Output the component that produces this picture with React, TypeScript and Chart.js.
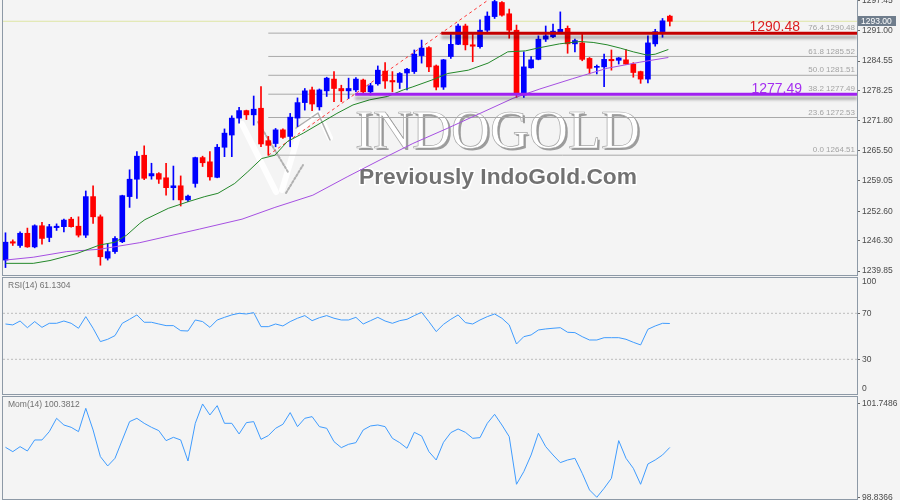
import React, { useEffect, useRef } from "react";
import { Chart, registerables } from "chart.js";

Chart.register(...registerables);

// ---------------- data ----------------
const opens = [1242.2,1246.1,1245.3,1247.9,1245.0,1249.5,1247.0,1249.1,1249.3,1250.9,
1249.4,1247.5,1255.7,1251.4,1242.6,1244.0,1246.1,1255.7,1259.4,1264.5,
1260.1,1260.6,1259.7,1257.6,1258.0,1255.0,1258.5,1264.0,1263.1,1259.8,
1266.2,1268.8,1272.4,1274.0,1273.1,1274.5,1267.6,1267.0,1269.9,1268.5,
1272.4,1275.7,1278.4,1274.8,1278.2,1280.7,1278.7,1278.2,1278.4,1280.5,
1278.0,1279.7,1282.4,1280.4,1280.0,1282.0,1282.3,1285.7,1287.4,1283.5,
1279.0,1285.5,1288.1,1292.0,1288.0,1287.6,1291.1,1294.0,1297.0,1294.6,
1291.1,1277.3,1283.1,1284.9,1289.2,1289.7,1290.6,1291.5,1288.2,1288.4,
1285.1,1283.2,1283.3,1284.9,1284.7,1284.8,1283.9,1282.3,1280.7,1288.2,
1290.8,1294.1];
const highs = [1248.0,1246.5,1248.2,1249.0,1249.7,1250.2,1249.8,1249.9,1250.9,1251.3,
1251.4,1256.9,1258.0,1251.8,1245.6,1247.2,1256.0,1261.4,1265.3,1266.5,
1262.8,1260.8,1262.8,1262.2,1260.1,1256.0,1264.1,1264.3,1265.3,1266.8,
1270.1,1272.9,1274.7,1274.1,1277.1,1279.1,1268.5,1270.2,1270.1,1273.4,
1276.7,1278.7,1279.0,1278.6,1281.1,1282.3,1279.4,1280.9,1281.0,1280.7,
1279.8,1283.5,1284.2,1282.3,1282.1,1283.0,1286.9,1289.0,1287.6,1283.7,
1284.9,1290.4,1292.4,1292.4,1290.4,1293.3,1295.0,1298.5,1297.2,1295.6,
1292.2,1286.5,1285.5,1289.9,1292.0,1292.4,1295.0,1292.0,1289.2,1290.4,
1285.3,1283.7,1286.0,1286.9,1285.3,1287.0,1284.2,1282.4,1289.9,1291.3,
1293.6,1294.3];
const lows = [1240.6,1245.3,1244.9,1244.9,1244.8,1245.6,1246.1,1248.5,1248.2,1249.2,
1247.1,1247.0,1250.0,1241.1,1242.2,1243.6,1245.9,1253.4,1255.3,1259.3,
1259.4,1258.5,1256.0,1255.0,1253.7,1254.6,1257.7,1262.1,1259.2,1259.7,
1264.2,1264.2,1271.3,1272.1,1270.9,1266.3,1264.5,1266.3,1268.1,1266.3,
1270.6,1274.1,1274.0,1274.1,1277.0,1275.9,1275.9,1276.6,1278.0,1277.7,
1277.3,1279.4,1278.7,1278.0,1278.7,1278.4,1281.9,1284.1,1282.3,1278.4,
1278.5,1285.1,1288.0,1286.9,1284.4,1287.3,1290.8,1293.6,1294.1,1289.4,
1276.8,1276.8,1283.0,1284.8,1288.7,1289.5,1290.4,1286.2,1286.5,1284.6,
1281.8,1281.8,1279.1,1282.6,1283.9,1283.8,1281.1,1279.8,1279.9,1287.7,
1289.6,1292.0];
const closes = [1246.0,1245.8,1247.9,1245.0,1249.5,1246.8,1249.3,1249.4,1250.7,1249.3,
1247.5,1255.7,1251.4,1242.9,1244.0,1246.8,1255.9,1259.4,1264.3,1259.6,
1260.6,1259.4,1257.6,1258.0,1255.0,1255.8,1264.0,1262.9,1259.9,1266.2,
1269.2,1272.4,1274.0,1273.1,1274.3,1266.9,1266.6,1269.9,1268.3,1272.6,
1275.7,1278.2,1275.4,1278.4,1280.9,1278.7,1278.2,1278.7,1280.7,1278.0,
1279.3,1282.6,1280.3,1280.1,1281.9,1282.8,1286.0,1287.3,1283.3,1279.0,
1284.8,1288.1,1292.0,1288.0,1287.7,1291.1,1294.1,1297.2,1294.3,1291.1,
1277.4,1283.3,1284.8,1289.2,1289.9,1290.9,1291.3,1288.2,1288.9,1284.9,
1283.0,1283.4,1284.9,1284.6,1285.2,1283.9,1282.1,1280.7,1288.4,1290.8,
1293.1,1293.0];

// moving averages, sampled where read (bar index -> price)
const maFastIdx = [0,3.8,6.1,9.8,12.9,15,16.6,18.4,19.1,22.3,25,27.3,29.1,31.4,33.2,35.1,36.9,38.6,40.8,43.1,45.4,47.6,49.9,52.3,54.5,55.7,58.4,60.6,63.4,66.1,68.8,71.2,72.9,75.9,78.7,80.5,82.4,84.2,86,87.9,89,90.8];
const maFastVal = [1241.5,1241.5,1242.1,1243.6,1245.4,1246.0,1247.5,1250.0,1250.8,1253.2,1254.6,1255.7,1256.4,1258.5,1261.0,1263.8,1264.5,1267.4,1269.2,1271.3,1273.4,1275.2,1276.3,1277.0,1278.4,1279.0,1280.5,1281.9,1282.6,1284.1,1286.5,1286.7,1287.3,1288.2,1288.7,1288.5,1288.0,1287.3,1286.5,1285.8,1286.0,1287.0];
const maSlowIdx = [0,3.8,8.4,12.9,18.4,26.6,32.4,36.9,42.1,46.8,51.3,55.8,60.5,65,69.5,73.2,77.7,82.4,86.9,90.8];
const maSlowVal = [1242.2,1242.8,1244.0,1244.5,1245.9,1248.8,1250.9,1253.4,1256.0,1259.9,1263.5,1267.0,1270.2,1273.4,1276.6,1278.6,1280.8,1283.0,1284.3,1285.3];

const rsiValues = [60.7,59.9,63.3,57.5,62.8,57.8,61.3,61.3,63.3,61.3,
57.0,67.1,57.0,45.4,47.4,50.6,61.3,64.8,68.6,62.2,
62.2,60.7,59.3,59.3,54.9,54.6,64.2,62.8,57.8,64.2,
66.5,68.6,70.0,69.4,70.6,58.4,58.4,60.7,59.0,62.8,
65.7,68.0,63.6,66.2,68.0,65.7,64.2,64.2,66.5,60.7,
63.6,66.5,63.3,61.3,63.6,64.8,68.0,70.9,62.8,54.1,
60.4,64.8,68.6,61.9,60.7,64.2,67.1,69.4,65.7,59.9,
43.3,49.7,51.2,55.5,56.4,57.0,57.5,53.5,53.2,49.7,
46.8,46.8,48.8,48.8,48.8,47.4,44.8,42.5,56.1,59.0,
61.3,61.13];
const momValues = [100.386,100.251,100.406,100.272,100.613,100.613,100.871,101.284,101.077,101.005,
100.871,101.594,100.923,100.097,99.808,100.045,100.613,101.181,101.284,101.129,
101.005,100.902,100.592,100.695,100.613,99.962,101.129,101.728,101.387,101.676,
101.129,101.129,100.799,101.150,101.181,100.633,100.747,100.974,101.098,101.460,
101.026,101.284,101.336,101.026,100.974,100.561,100.375,100.479,100.530,100.923,
101.047,101.077,101.026,100.664,100.530,100.355,100.850,100.737,100.251,99.993,
100.541,100.840,100.953,100.850,100.664,100.685,101.129,101.408,101.077,100.716,
99.240,99.632,100.148,100.820,100.406,100.148,99.911,99.993,100.045,99.580,
99.064,98.837,99.116,99.425,100.592,100.045,99.735,99.240,99.869,99.993,
100.148,100.381];

const priceTicks = [1297.45,1291.00,1284.55,1278.25,1271.80,1265.50,1259.05,1252.60,1246.30,1239.85];
const fibRatios = ["0.0","23.6","38.2","50.0","61.8","76.4"];
const fibValues = [1264.51,1272.53,1277.49,1281.51,1285.52,1290.48];
const fibHigh = 1298.49;
const fibStartIdx = 36;
const fibEndIdx = 67;
const resistance = 1290.48;
const resistanceStart = 59.7;
const support = 1277.49;
const supportStart = 47.9;
const bidPrice = 1293.0;
const rsiLevels = [70, 30];
const rsiTicks = [100, 70, 30, 0];
const momTicks = [101.7486, 98.8366];
const rsiTitle = "RSI(14) 61.1304";
const momTitle = "Mom(14) 100.3812";

// ---------------- style / layout ----------------
const FONT = '"Liberation Sans", Arial, sans-serif';
const BG = "#f4f4f4";
const FRAME = "#8d99a6";
const BULL = "#0000ff";
const BEAR = "#ff0000";
const X_MIN = -0.34;
const X_MAX = 116.64;
const AXIS_W = 43;

const xScale: any = {
  type: "linear", min: X_MIN, max: X_MAX, display: false, offset: false,
  grid: { offset: false },
};

function yAxis(min: number, max: number, ticks: number[], digits: number): any {
  return {
    position: "right", min, max, beginAtZero: false,
    afterBuildTicks: (s: any) => { s.ticks = ticks.map((v) => ({ value: v })); },
    afterFit: (s: any) => {
      s.width = AXIS_W;
      s.paddingTop = 0;
      s.paddingBottom = 0;
      s.paddingLeft = 0;
      s.paddingRight = 0;
    },
    ticks: {
      autoSkip: false, padding: 2, color: "#4a4a4a",
      font: { family: FONT, size: 8.5 },
      callback: (v: any) => Number(v).toFixed(digits),
    },
    grid: { drawOnChartArea: false, drawTicks: true, tickLength: 3, color: "#666" },
    border: { display: true, color: FRAME },
  };
}

const panelPlugin = {
  id: "panelFrame",
  beforeDraw(chart: any) {
    const { ctx, width, height } = chart;
    ctx.save();
    ctx.fillStyle = BG;
    ctx.fillRect(0, 0, width, height);
    ctx.restore();
  },
  afterDraw(chart: any) {
    const { ctx, chartArea: a } = chart;
    ctx.save();
    ctx.strokeStyle = FRAME;
    ctx.lineWidth = 1;
    ctx.strokeRect(Math.round(a.left) - 0.5, Math.round(a.top) - 0.5, Math.round(a.right - a.left) + 1, Math.round(a.bottom - a.top) + 1);
    ctx.restore();
  },
};

const shadowPlugin = {
  id: "lineShadow",
  beforeDatasetDraw(chart: any, args: any) {
    const ds = chart.data.datasets[args.index];
    if (ds && ds.shadow) {
      const ctx = chart.ctx;
      ctx.save();
      ctx.shadowColor = "rgba(0,0,0,0.32)";
      ctx.shadowBlur = 3;
      ctx.shadowOffsetY = 4;
    }
  },
  afterDatasetDraw(chart: any, args: any) {
    const ds = chart.data.datasets[args.index];
    if (ds && ds.shadow) chart.ctx.restore();
  },
};

function strokePath(ctx: any, pts: number[][], color: string, width: number, dash: number[]) {
  ctx.beginPath();
  pts.forEach((p, i) => (i === 0 ? ctx.moveTo(p[0], p[1]) : ctx.lineTo(p[0], p[1])));
  ctx.setLineDash(dash);
  ctx.strokeStyle = color;
  ctx.lineWidth = width;
  ctx.stroke();
}

const watermarkPlugin = {
  id: "watermark",
  beforeDatasetsDraw(chart: any) {
    const ctx = chart.ctx;
    ctx.save();
    // faint logo mark
    ctx.lineJoin = "round";
    ctx.lineCap = "round";
    strokePath(ctx, [[242, 124], [276, 192]], "rgba(255,255,255,0.9)", 6, []);
    strokePath(ctx, [[282, 190], [300, 130], [318, 112], [330, 138]], "rgba(255,255,255,0.9)", 6, []);
    strokePath(ctx, [[258, 122], [288, 172]], "rgba(120,120,120,0.55)", 2, [2, 2]);
    strokePath(ctx, [[286, 193], [303, 165]], "rgba(120,120,120,0.55)", 2, [2, 2]);
    strokePath(ctx, [[296, 128], [318, 113], [330, 140]], "rgba(120,120,120,0.6)", 1.5, []);
    ctx.setLineDash([]);

    const t1 = "INDOGOLD";
    ctx.font = `56px "Liberation Serif", serif`;
    const s1 = (56 * 285) / ctx.measureText(t1).width;
    ctx.font = `${s1}px "Liberation Serif", serif`;
    ctx.textBaseline = "alphabetic";
    ctx.textAlign = "left";
    ctx.fillStyle = "rgba(120,120,120,0.7)";
    ctx.fillText(t1, 357, 150);
    ctx.fillStyle = "#ffffff";
    ctx.fillText(t1, 355, 148);
    ctx.lineWidth = 0.7;
    ctx.strokeStyle = "rgba(130,130,130,0.7)";
    ctx.strokeText(t1, 355, 148);

    const t2 = "Previously IndoGold.Com";
    ctx.font = `bold 22px ${FONT}`;
    const s2 = (22 * 278) / ctx.measureText(t2).width;
    ctx.font = `bold ${s2}px ${FONT}`;
    ctx.lineWidth = 3;
    ctx.strokeStyle = "#ffffff";
    ctx.strokeText(t2, 359, 184);
    ctx.fillStyle = "#727272";
    ctx.fillText(t2, 359, 184);
    ctx.restore();
  },
};

const mainLabelsPlugin = {
  id: "mainLabels",
  afterDatasetsDraw(chart: any) {
    const { ctx, chartArea: a, scales } = chart;
    const y = scales.y;
    ctx.save();
    ctx.font = `8px ${FONT}`;
    ctx.fillStyle = "#a3a3a3";
    ctx.textAlign = "right";
    ctx.textBaseline = "bottom";
    fibValues.forEach((v, i) => {
      ctx.fillText(`${fibRatios[i]} ${v.toFixed(2)}`, a.right - 2, y.getPixelForValue(v) - 1);
    });
    ctx.font = `14px ${FONT}`;
    ctx.textBaseline = "alphabetic";
    ctx.fillStyle = "#dc1e1e";
    ctx.fillText(resistance.toFixed(2), a.right - 57, y.getPixelForValue(resistance) - 2.5);
    ctx.fillStyle = "#a42ef0";
    ctx.fillText(support.toFixed(2), a.right - 55, y.getPixelForValue(support) - 1.5);
    ctx.restore();
  },
  afterDraw(chart: any) {
    const { ctx, chartArea: a, scales } = chart;
    const py = Math.round(scales.y.getPixelForValue(bidPrice));
    ctx.save();
    ctx.fillStyle = "#6f7d8c";
    ctx.fillRect(a.right + 1, py - 5, 38, 10);
    ctx.fillStyle = "#ffffff";
    ctx.font = `8.5px ${FONT}`;
    ctx.textBaseline = "middle";
    ctx.textAlign = "left";
    ctx.fillText(bidPrice.toFixed(2), a.right + 4, py + 0.5);
    ctx.restore();
  },
};

function titlePlugin(title: string, edgeLabels: boolean): any {
  return {
    id: "title_" + title.slice(0, 3),
    afterDraw(chart: any) {
      const { ctx, chartArea: a } = chart;
      ctx.save();
      ctx.font = `8.5px ${FONT}`;
      ctx.fillStyle = "#707070";
      ctx.textBaseline = "middle";
      ctx.textAlign = "left";
      ctx.fillText(title, a.left + 5, a.top + 8);
      if (edgeLabels) {
        ctx.fillStyle = "#4a4a4a";
        ctx.fillText(String(rsiTicks[0]), a.right + 5, a.top + 4);
        ctx.fillText(String(rsiTicks[3]), a.right + 5, a.bottom - 5);
      }
      ctx.restore();
    },
  };
}

function hLine(x0: number, x1: number, v: number, extra: any): any {
  return Object.assign(
    { type: "line", data: [{ x: x0, y: v }, { x: x1, y: v }], pointRadius: 0, borderWidth: 1 },
    extra
  );
}

const baseOptions = (scales: any, padding: any): any => ({
  animation: false,
  responsive: false,
  events: [],
  layout: { padding, autoPadding: false },
  plugins: { legend: { display: false }, tooltip: { enabled: false } },
  scales,
});

export default function App() {
  const mainRef = useRef<HTMLCanvasElement>(null);
  const rsiRef = useRef<HTMLCanvasElement>(null);
  const momRef = useRef<HTMLCanvasElement>(null);

  useEffect(() => {
    const idx = opens.map((_, i) => i);
    const colors = opens.map((o, i) => (closes[i] >= o ? BULL : BEAR));

    const main = new Chart(mainRef.current as HTMLCanvasElement, {
      type: "bar",
      data: {
        datasets: [
          hLine(X_MIN, X_MAX, bidPrice, { borderColor: "rgba(215,225,140,0.75)", order: 30 }),
          ...fibValues.map((v) => hLine(fibStartIdx, X_MAX, v, { borderColor: "#a9a9a9", order: 25 })),
          {
            type: "line",
            data: [{ x: fibStartIdx, y: fibValues[0] }, { x: fibEndIdx, y: fibHigh }],
            borderColor: "#ff3a3a", borderWidth: 1, borderDash: [3, 3], pointRadius: 0, order: 24,
          },
          {
            type: "bar",
            data: idx.map((i) => ({ x: i, y: [lows[i], highs[i]] })),
            backgroundColor: colors, barThickness: 1, grouped: false, order: 12,
          },
          {
            type: "bar",
            data: idx.map((i) => ({ x: i, y: [opens[i], closes[i]] })),
            backgroundColor: colors, barThickness: 5, grouped: false, minBarLength: 1, order: 11,
          },
          {
            type: "line",
            data: maSlowIdx.map((x, i) => ({ x, y: maSlowVal[i] })),
            borderColor: "#a650e2", borderWidth: 1, pointRadius: 0, order: 6,
          },
          {
            type: "line",
            data: maFastIdx.map((x, i) => ({ x, y: maFastVal[i] })),
            borderColor: "#24882a", borderWidth: 1, pointRadius: 0, order: 5,
          },
          hLine(supportStart, X_MAX, support, { borderColor: "#a020f0", borderWidth: 3, order: 2, shadow: true }),
          hLine(resistanceStart, X_MAX, resistance, { borderColor: "#c40000", borderWidth: 3, order: 1, shadow: true }),
        ] as any,
      },
      options: baseOptions(
        { x: xScale, y: yAxis(1239.02, 1297.53, priceTicks, 2) },
        { left: 3, top: 0, right: 0, bottom: 2 }
      ),
      plugins: [panelPlugin, watermarkPlugin, shadowPlugin, mainLabelsPlugin],
    } as any);

    const rsi = new Chart(rsiRef.current as HTMLCanvasElement, {
      type: "line",
      data: {
        datasets: [
          ...rsiLevels.map((v) => hLine(X_MIN, X_MAX, v, { borderColor: "#bdbdbd", borderDash: [2, 2], order: 5 })),
          {
            data: idx.map((i) => ({ x: i, y: rsiValues[i] })),
            borderColor: "#3f9cff", borderWidth: 1, pointRadius: 0, order: 1,
          },
        ] as any,
      },
      options: baseOptions(
        { x: xScale, y: yAxis(-0.17, 100.7, rsiLevels, 0) },
        { left: 3, top: 1, right: 0, bottom: 1 }
      ),
      plugins: [panelPlugin, titlePlugin(rsiTitle, true)],
    } as any);

    const mom = new Chart(momRef.current as HTMLCanvasElement, {
      type: "line",
      data: {
        datasets: [
          {
            data: idx.map((i) => ({ x: i, y: momValues[i] })),
            borderColor: "#3f9cff", borderWidth: 1, pointRadius: 0,
          },
        ] as any,
      },
      options: baseOptions(
        { x: xScale, y: yAxis(98.784, 101.944, momTicks, 4) },
        { left: 3, top: 2, right: 0, bottom: 1 }
      ),
      plugins: [panelPlugin, titlePlugin(momTitle, false)],
    } as any);

    return () => {
      main.destroy();
      rsi.destroy();
      mom.destroy();
    };
  }, []);

  return (
    <div style={{ position: "absolute", left: 0, top: 0, width: 900, height: 500, background: BG, overflow: "hidden" }}>
      <canvas ref={mainRef} width={900} height={277} style={{ position: "absolute", left: 0, top: 0 }} />
      <canvas ref={rsiRef} width={900} height={118} style={{ position: "absolute", left: 0, top: 277 }} />
      <canvas ref={momRef} width={900} height={105} style={{ position: "absolute", left: 0, top: 395 }} />
    </div>
  );
}
